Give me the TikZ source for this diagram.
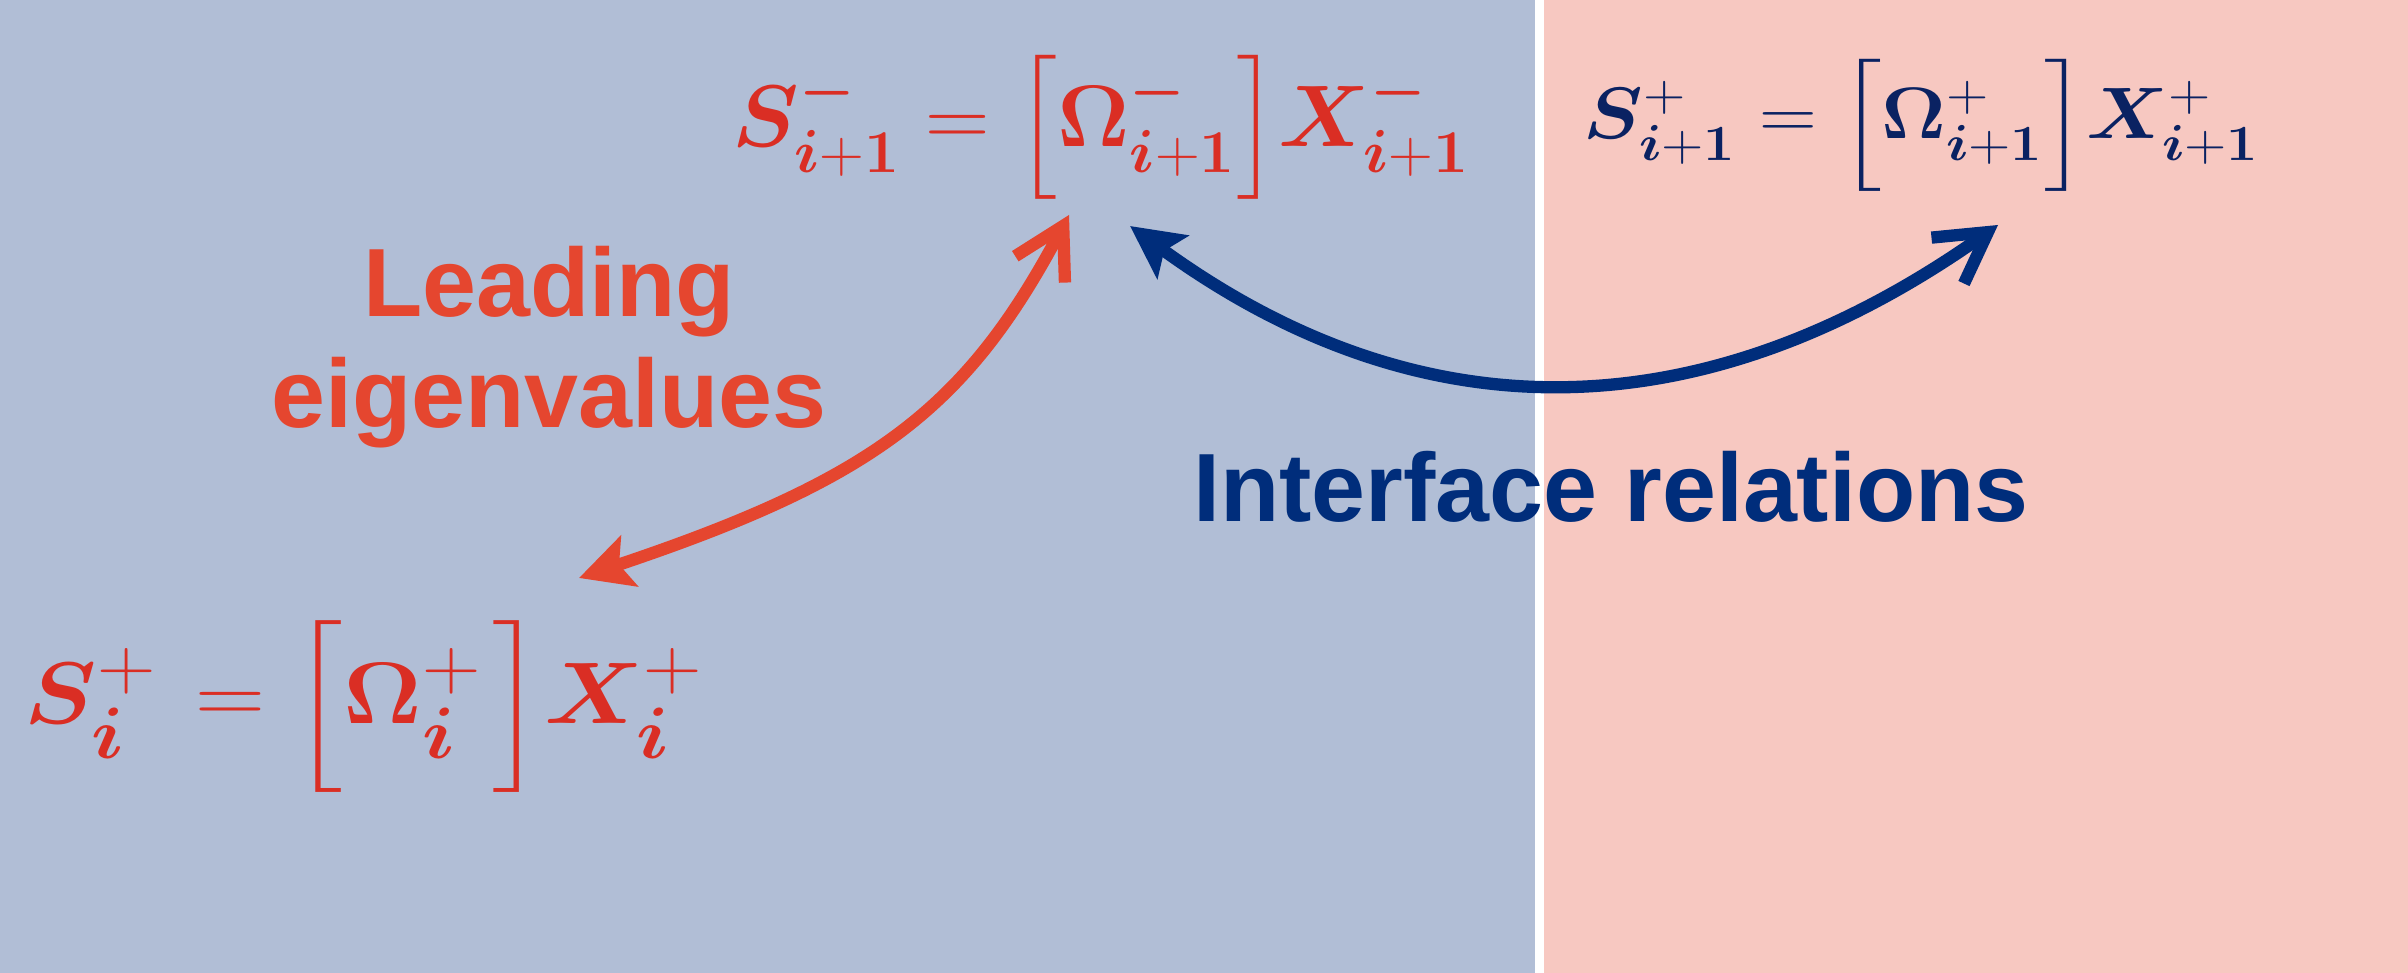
\documentclass[tikz,border=0pt]{standalone}
\usepackage{amsmath}
\usepackage{graphicx}
\usepackage[no-math]{fontspec}
\setsansfont{Liberation Sans}
\usetikzlibrary{arrows.meta}
\DeclareMathAlphabet{\mathbi}{OML}{cmm}{b}{it}
\DeclareSymbolFont{bsym}{OMS}{cmsy}{b}{n}
\DeclareMathSymbol{\bminus}{\mathbin}{bsym}{"00}
\newcommand{\ipo}{\mathbi{i}\mathbf{+1}}
\newcommand{\bplus}{\mathbf{+}}
\newcommand{\lbrk}[1]{\mathopen{\resizebox*{\width}{#1}{$\delimiterfactor=1000 \delimitershortfall=0pt \nulldelimiterspace=0pt \left[\vcenter{\hbox{\rule{0pt}{#1}}}\right.$}}}
\newcommand{\rbrk}[1]{\mathclose{\resizebox*{\width}{#1}{$\delimiterfactor=1000 \delimitershortfall=0pt \nulldelimiterspace=0pt \left.\vcenter{\hbox{\rule{0pt}{#1}}}\right]$}}}
\definecolor{bgblue}{HTML}{B1BED6}
\definecolor{bgpink}{HTML}{F7C8C1}
\definecolor{eqred}{HTML}{DA2E24}
\definecolor{txtred}{HTML}{E5462F}
\definecolor{navy}{HTML}{002D7B}
\definecolor{eqnavy}{HTML}{0A2262}
\begin{document}
\begin{tikzpicture}[x=0.1mm,y=-0.1mm]
\tikzset{
  eqnode/.style={inner sep=0pt, anchor=base west},
  lbl/.style={inner sep=0pt, font=\sffamily\bfseries\fontsize{27.6}{31.6}\selectfont, align=center},
  conn/.style={line width=3.5pt},
}
\fill[bgblue] (0,0) rectangle (1535,973);
\fill[white] (1535,0) rectangle (1544,973);
\fill[bgpink] (1544,0) rectangle (2408,973);
\useasboundingbox (0,0) rectangle (2408,973);

\node[eqnode, text=eqred, font=\fontsize{23.8}{28}\selectfont] (topred) at (732,147)
  {\scalebox{1.022}[1]{$\mathbi{S}_{\ipo}^{\bminus} = \lbrk{41pt}\mathbf{\Omega}_{\ipo}^{\bminus}\rbrk{41pt} \mathbi{X}_{\ipo}^{\bminus}$}};
\node[eqnode, text=eqnavy, font=\fontsize{21.2}{25}\selectfont] (topnavy) at (1583,139)
  {\scalebox{1.097}[1]{$\mathbi{S}_{\ipo}^{\bplus} = \lbrk{37.6pt}\mathbf{\Omega}_{\ipo}^{\bplus}\rbrk{37.6pt} \mathbi{X}_{\ipo}^{\bplus}$}};
\node[eqnode, text=eqred, font=\fontsize{28.6}{33}\selectfont] (botred) at (24,724)
  {\scalebox{1.11}[1]{$\mathbi{S}_{\mathbi{i}}^{\bplus}\mkern2mu = \lbrk{48.9pt}\mathbf{\Omega}_{\mathbi{i}}^{\bplus}\mkern2mu\rbrk{48.9pt} \mathbi{X}_{\mathbi{i}}^{\bplus}$}};

\node[lbl, text=txtred, anchor=base] (lead) at (549,428) {Leading\\eigenvalues};
\node[lbl, text=navy, anchor=base] (iface) at (1611,522) {Interface relations};

\coordinate (rA) at (1069,215);
\coordinate (rB) at (579,578);
\coordinate (bA) at (1130,226);
\coordinate (bB) at (1998,225);
\draw[conn, txtred, {Stealth[length=15pt,width=15pt,inset=3pt]}-{Straight Barb[length=14pt,width=16pt]}] (rB) .. controls (874,479) and (966,409) .. (rA);
\draw[conn, navy, {Stealth[length=15pt,width=15pt,inset=3pt]}-{Straight Barb[length=14pt,width=16pt]}] (bA) .. controls (1422,438) and (1704,433) .. (bB);
\end{tikzpicture}
\end{document}
